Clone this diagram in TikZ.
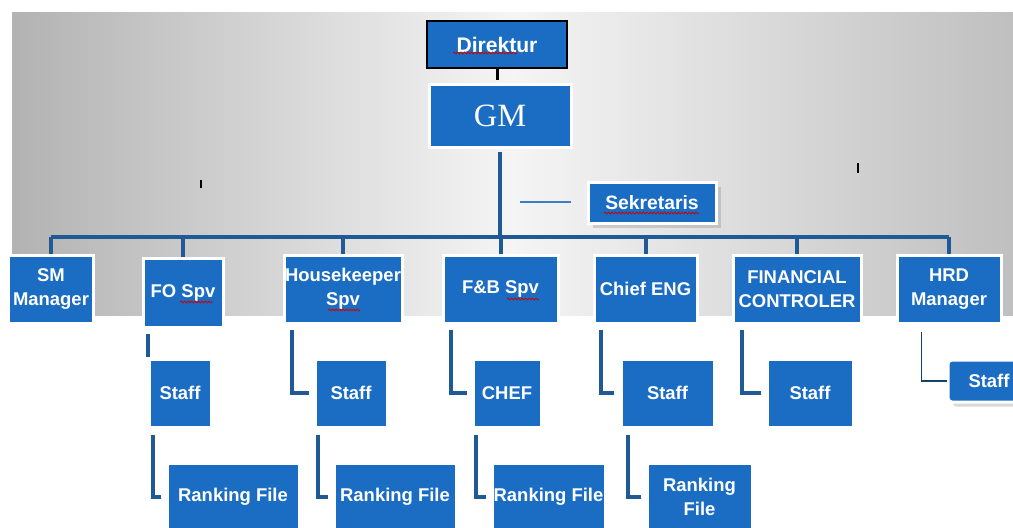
\documentclass[tikz,border=0pt]{standalone}
\usepackage{fontspec}
\setmainfont{Liberation Sans}
\newfontfamily\gmfont{Liberation Serif}
\usetikzlibrary{shadows,decorations.pathmorphing}
\definecolor{orgblue}{HTML}{1A6DC3}
\definecolor{orgline}{HTML}{1F5A97}
\definecolor{orgstub}{HTML}{3C7FC0}

\begin{document}
\begin{tikzpicture}[x=0.2mm,y=-0.2mm,
    orgbox/.style={fill=orgblue,draw=white,line width=0.6mm,text=white,
      font=\fontsize{10.5}{13.5}\selectfont\bfseries,align=center,inner sep=0pt},
    orglink/.style={orgline,line width=0.8mm},
    spell/.style={red!80!black,line width=0.15mm,decorate,
      decoration={snake,amplitude=0.2mm,segment length=0.7mm}}]
  \useasboundingbox (0,0) rectangle (1013,527);
  \shade[left color=gray!60,right color=gray!50,middle color=gray!8]
    (12,12) rectangle (1013,315);
  % top
  \node[orgbox,draw=black,line width=0.3mm,minimum width=28mm,minimum height=9.4mm,
    font=\fontsize{12}{14}\selectfont\bfseries] (dir) at (497,44.5) {Direktur};
  \node[orgbox,minimum width=28.4mm,minimum height=12.6mm,
    font=\gmfont\fontsize{18.5}{20}\selectfont] (gm) at (500,115.5) {GM};
  \node[orgbox,drop shadow={opacity=0.3},minimum width=25.6mm,minimum height=8.2mm,
    font=\fontsize{11}{13}\selectfont\bfseries] (sek) at (652,202.5) {Sekretaris};
  % managers
  \node[orgbox,minimum width=16.8mm,minimum height=13.6mm] (sm) at (51,289) {SM\\Manager};
  \node[orgbox,minimum width=16mm,minimum height=13.8mm] (fo) at (183,292.5) {FO Spv};
  \node[orgbox,minimum width=23.6mm,minimum height=13.6mm] (hk) at (343,289) {Housekeeper\\Spv};
  \node[orgbox,minimum width=23mm,minimum height=13.6mm] (fb) at (500.5,289) {F\&B Spv};
  \node[orgbox,minimum width=20.6mm,minimum height=13.6mm] (ce) at (645.5,289) {Chief ENG};
  \node[orgbox,minimum width=25.6mm,minimum height=13.6mm] (fc) at (797,289) {FINANCIAL\\CONTROLER};
  \node[orgbox,minimum width=20.8mm,minimum height=13.6mm] (hrd) at (949,289) {HRD\\Manager};
  % staff
  \node[orgbox,minimum width=12.4mm,minimum height=13.6mm] (foStaff) at (180,393) {Staff};
  \node[orgbox,minimum width=14.4mm,minimum height=13.6mm] (hkStaff) at (351,393) {Staff};
  \node[orgbox,minimum width=13.6mm,minimum height=13.6mm] (chef) at (507,393) {CHEF};
  \node[orgbox,minimum width=18.6mm,minimum height=13.6mm] (ceStaff) at (667.5,393) {Staff};
  \node[orgbox,minimum width=17.2mm,minimum height=13.6mm] (fcStaff) at (810,393) {Staff};
  \node[orgbox,rounded corners=0.8mm,drop shadow={opacity=0.3},minimum width=16.4mm,
    minimum height=8.4mm] (hrdStaff) at (989,381) {Staff};
  % ranking file
  \node[orgbox,minimum width=26.4mm,minimum height=13.6mm] (foRank) at (233,497) {Ranking File};
  \node[orgbox,minimum width=24.4mm,minimum height=13.6mm] (hkRank) at (395,497) {Ranking File};
  \node[orgbox,minimum width=22.6mm,minimum height=13.6mm] (fbRank) at (548.5,497) {Ranking File};
  \node[orgbox,minimum width=21mm,minimum height=13.6mm] (ceRank) at (699.5,497) {Ranking\\File};

  % lines
  \coordinate (bus) at (502,237);
  \coordinate (sekStub) at (520,202);
  \draw[black,line width=0.6mm,shorten >=0.6mm] (dir.south) -- (dir.south |- gm.north);
  \draw[orglink] ([yshift=-0.6mm]gm.south) -- (gm.south |- bus);
  \draw[orglink] (sm.north |- bus) -- (hrd.north |- bus);
  \foreach \n in {sm,fo,hk,fb,ce,fc,hrd}
    \draw[orglink] (\n.north |- bus) -- (\n.north);
  \draw[orgstub,line width=0.3mm,shorten >=3.2mm] (sekStub) -- (sekStub -| sek.west);

  \draw[orglink,shorten >=1.2mm] ([xshift=1.2mm,yshift=-1mm]fo.south west)
    -- ([xshift=1.2mm,yshift=-1mm]fo.south west |- foStaff.north);
  \draw[orglink] ([xshift=1.8mm,yshift=-1mm]hk.south west) |- ([xshift=-1mm]hkStaff.west);
  \draw[orglink] ([xshift=1.8mm,yshift=-1mm]fb.south west) |- ([xshift=-1mm]chef.west);
  \draw[orglink] ([xshift=1.6mm,yshift=-1mm]ce.south west) |- ([xshift=-1.2mm]ceStaff.west);
  \draw[orglink] ([xshift=2mm,yshift=-1mm]fc.south west) |- ([xshift=-1mm]fcStaff.west);
  \draw[orgline!70!black,line width=0.25mm] ([xshift=5.2mm,yshift=-1.4mm]hrd.south west)
    |- (hrdStaff.west);

  \draw[orglink] ([xshift=1mm,yshift=-1.2mm]foStaff.south west) |- ([xshift=-1mm]foRank.west);
  \draw[orglink] ([xshift=0.8mm,yshift=-1.2mm]hkStaff.south west) |- ([xshift=-1mm]hkRank.west);
  \draw[orglink] ([xshift=0.8mm,yshift=-1.2mm]chef.south west) |- ([xshift=-1mm]fbRank.west);
  \draw[orglink] ([xshift=1.6mm,yshift=-1.2mm]ceStaff.south west) |- ([xshift=-1mm]ceRank.west);

  % ticks and spelling marks
  \draw[black,line width=0.25mm] (201,180) -- (201,188) (858,163) -- (858,173);
  \draw[spell] (453,53) -- (517,53);
  \draw[spell] (604,213) -- (699,213);
  \draw[spell] (180,302) -- (213,302);
  \draw[spell] (328,310) -- (360,310);
  \draw[spell] (507,299) -- (539,299);
\end{tikzpicture}
\end{document}
